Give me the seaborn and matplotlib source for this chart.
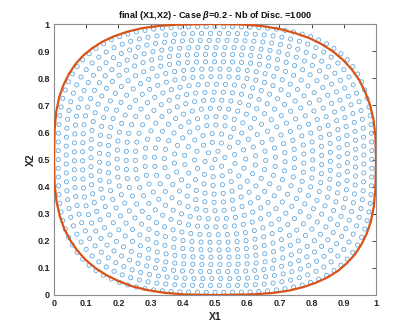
import numpy as np
import pandas as pd
import matplotlib
matplotlib.use("Agg")
import matplotlib.pyplot as plt
import seaborn as sns

# ---------------- data ----------------
title_text = "final (X1,X2) - Case $\\beta$=0.2 - Nb of Disc. =1000"
x_label = "X1"
y_label = "X2"
tick_values = [0, 0.1, 0.2, 0.3, 0.4, 0.5, 0.6, 0.7, 0.8, 0.9, 1]
tick_labels = ["0", "0.1", "0.2", "0.3", "0.4", "0.5", "0.6", "0.7", "0.8", "0.9", "1"]

# red boundary curve (estimated points, counter-clockwise from the right side)
curve_x = [1.000, 0.998, 0.992, 0.981, 0.966, 0.948, 0.925, 0.898, 0.867, 0.832,
           0.793, 0.750, 0.703, 0.649, 0.588, 0.500,
           0.389, 0.325, 0.271, 0.226, 0.185, 0.149, 0.118, 0.090, 0.066, 0.046,
           0.029, 0.016, 0.007, 0.002, 0.000,
           0.002, 0.008, 0.018, 0.032, 0.051, 0.073, 0.099, 0.129, 0.163, 0.201,
           0.243, 0.291, 0.344, 0.406, 0.500,
           0.611, 0.676, 0.729, 0.774, 0.815, 0.851, 0.883, 0.910, 0.934, 0.954,
           0.971, 0.984, 0.993, 0.998, 1.000]
curve_y = [0.500, 0.588, 0.649, 0.703, 0.750, 0.793, 0.832, 0.867, 0.898, 0.925,
           0.948, 0.966, 0.981, 0.992, 0.998, 1.000,
           0.998, 0.993, 0.984, 0.971, 0.954, 0.934, 0.910, 0.883, 0.851, 0.815,
           0.774, 0.729, 0.676, 0.611, 0.500,
           0.406, 0.344, 0.291, 0.243, 0.201, 0.163, 0.129, 0.099, 0.073, 0.051,
           0.032, 0.018, 0.008, 0.002, 0.000,
           0.002, 0.007, 0.016, 0.029, 0.046, 0.066, 0.090, 0.118, 0.149, 0.185,
           0.226, 0.271, 0.325, 0.389, 0.500]

# discs: they sit in layers that follow the outline; one entry per layer
disc_layer_level = [0.980, 0.930, 0.879, 0.827, 0.775, 0.721, 0.667, 0.611, 0.555,
                    0.497, 0.438, 0.378, 0.317, 0.255, 0.192, 0.128, 0.064, 0.0]
disc_layer_count = [112, 104, 98, 91, 85, 79, 72, 66, 59,
                    52, 46, 39, 32, 26, 19, 13, 6, 1]
disc_layer_power = [3.1, 3.05, 3.0, 2.95, 2.9, 2.8, 2.7, 2.6, 2.5,
                    2.4, 2.3, 2.2, 2.1, 2.05, 2.0, 2.0, 2.0, 2.0]
disc_layer_phase = [0.0, 0.5, 0.15, 0.65, 0.3, 0.8, 0.45, 0.95, 0.6,
                    0.1, 0.75, 0.25, 0.9, 0.4, 0.05, 0.55, 0.2, 0.0]
disc_half_x = 0.497
disc_half_y = 0.500

# ---------------- build the disc table ----------------
rows = []
t = np.linspace(0, 2 * np.pi, 4001)
for lvl, n, p, ph in zip(disc_layer_level, disc_layer_count, disc_layer_power, disc_layer_phase):
    if n == 1:
        rows.append((0.5, 0.5))
        continue
    c, s = np.cos(t), np.sin(t)
    xs = 0.5 + disc_half_x * lvl * np.sign(c) * np.abs(c) ** (2 / p)
    ys = 0.5 + disc_half_y * lvl * np.sign(s) * np.abs(s) ** (2 / p)
    seg = np.hypot(np.diff(xs) * 322, np.diff(ys) * 271)
    cum = np.concatenate([[0], np.cumsum(seg)])
    L = cum[-1]
    pos = (np.arange(n) + ph) / n * L
    px = np.interp(pos, cum, xs)
    py = np.interp(pos, cum, ys)
    rows.extend(zip(px, py))
discs = pd.DataFrame(rows, columns=["X1", "X2"])
curve = pd.DataFrame({"X1": curve_x, "X2": curve_y})

# ---------------- drawing ----------------
sns.set_theme(style="white")
plt.rcParams["font.family"] = ["Liberation Sans", "DejaVu Sans"]
plt.rcParams["mathtext.fontset"] = "custom"
plt.rcParams["mathtext.it"] = "Liberation Sans:italic:bold"
plt.rcParams["mathtext.rm"] = "Liberation Sans:bold"

fig = plt.figure(figsize=(4.15, 3.32), dpi=100)
ax = fig.add_axes([54 / 415, 37 / 332, 322 / 415, 271 / 332])

sns.scatterplot(data=discs, x="X1", y="X2", ax=ax, marker="o", s=9,
                facecolor="none", edgecolor="#4b9ad6", linewidth=0.5, legend=False,
                zorder=2)
sns.lineplot(data=curve, x="X1", y="X2", ax=ax, sort=False, estimator=None,
             color="#D95319", linewidth=1.6, zorder=3)

ax.set_xlim(0, 1)
ax.set_ylim(0, 1)
ax.set_xticks(tick_values)
ax.set_xticklabels(tick_labels)
ax.set_yticks(tick_values)
ax.set_yticklabels(tick_labels)
ax.tick_params(direction="in", length=3, width=0.6, top=True, right=True,
               colors="#262626", labelsize=6.5, pad=3)
for lab in ax.get_xticklabels() + ax.get_yticklabels():
    lab.set_fontweight("bold")
for sp in ax.spines.values():
    sp.set_color("#8c8c8c")
    sp.set_linewidth(0.8)

ax.set_xlabel(x_label, fontsize=7.5, fontweight="bold", color="#262626", labelpad=3)
ax.set_ylabel(y_label, fontsize=7.5, fontweight="bold", color="#262626", labelpad=1)
ax.set_title(title_text, fontsize=6.6, fontweight="bold", color="#111111", pad=4)

fig.savefig("out.png", dpi=100)
